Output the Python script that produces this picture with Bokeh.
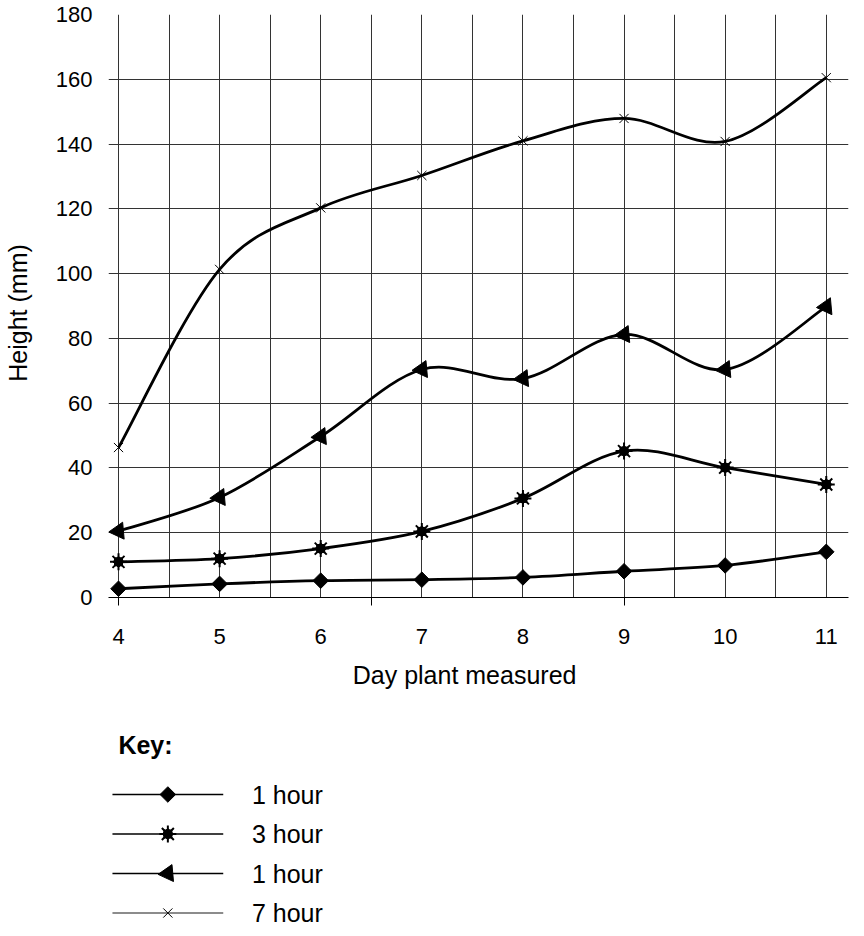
import math
from bokeh.plotting import figure
from bokeh.layouts import column
from bokeh.models import Range1d, FixedTicker
from bokeh.core.properties import value
from bokeh.embed import file_html
from bokeh.resources import INLINE

# ---- data ----
days = [4, 5, 6, 7, 8, 9, 10, 11]
one_hour_a = [2.7, 4.2, 5.2, 5.5, 6.2, 8.1, 9.9, 14.1]
three_hour = [11.0, 12.0, 15.1, 20.4, 30.6, 45.2, 40.1, 34.9]
one_hour_b = [20.5, 30.9, 49.7, 70.4, 67.6, 81.2, 70.4, 89.8]
seven_hour = [46.3, 101.3, 120.3, 130.3, 141.0, 147.9, 140.8, 160.5]
series_labels = ["1 hour", "3 hour", "1 hour", "7 hour"]
series_markers = ["diamond", "star8", "triangle_left", "x"]
y_ticks = [0, 20, 40, 60, 80, 100, 120, 140, 160, 180]
x_ticks = [4, 5, 6, 7, 8, 9, 10, 11]
x_marked_ticks = [4, 6.5, 9]
x_grid = [4, 4.5, 5, 5.5, 6, 6.5, 7, 7.5, 8, 8.5, 9, 9.5, 10, 10.5, 11]
x_title = "Day plant measured"
y_title = "Height (mm)"
key_title = "Key:"

FONT = "Liberation Sans"
NBSP = "\u00a0"

p = figure(frame_width=740, frame_height=583,
           min_border_left=100, min_border_top=14, min_border_right=8,
           min_border_bottom=0,
           x_range=Range1d(3.901, 11.22), y_range=Range1d(0, 180),
           output_backend="svg", toolbar_location=None)
p.outline_line_color = None
p.background_fill_color = "white"

# axes
ya = p.yaxis[0]
ya.ticker = FixedTicker(ticks=y_ticks)
ya.major_tick_out = 0
ya.major_tick_in = 0
ya.minor_tick_out = 0
ya.minor_tick_in = 0
ya.axis_line_color = None
ya.major_tick_line_color = None
ya.major_label_text_font = FONT
ya.major_label_text_font_size = "22px"
ya.major_label_text_color = "black"
ya.major_label_standoff = 16
ya.axis_label = y_title + NBSP * 2
ya.axis_label_text_font = FONT
ya.axis_label_text_font_size = "25px"
ya.axis_label_text_font_style = "normal"
ya.axis_label_text_color = "black"
ya.axis_label_standoff = 21

xa = p.xaxis[0]
xa.ticker = FixedTicker(ticks=x_ticks, minor_ticks=x_marked_ticks)
xa.major_tick_out = 0
xa.major_tick_in = 0
xa.minor_tick_out = 8
xa.minor_tick_in = 0
xa.minor_tick_line_color = "black"
xa.axis_line_color = "black"
xa.major_label_text_font = FONT
xa.major_label_text_font_size = "22px"
xa.major_label_text_color = "black"
xa.major_label_standoff = 23
xa.axis_label = x_title + NBSP * 4
xa.axis_label_text_font = FONT
xa.axis_label_text_font_size = "25px"
xa.axis_label_text_font_style = "normal"
xa.axis_label_text_color = "black"
xa.axis_label_standoff = 14

p.xgrid.ticker = FixedTicker(ticks=x_grid)
p.ygrid.ticker = FixedTicker(ticks=y_ticks)
for g in (p.xgrid, p.ygrid):
    g.grid_line_color = "#333333"
    g.grid_line_width = 1


def bezier_segments(xs, ys):
    """Smooth (Catmull-Rom) segments through the data points."""
    n = len(xs)
    out = dict(x0=[], y0=[], x1=[], y1=[], cx0=[], cy0=[], cx1=[], cy1=[])
    for i in range(n - 1):
        a = max(i - 1, 0)
        d = min(i + 2, n - 1)
        out["x0"].append(xs[i]); out["y0"].append(ys[i])
        out["x1"].append(xs[i + 1]); out["y1"].append(ys[i + 1])
        out["cx0"].append(xs[i] + (xs[i + 1] - xs[a]) / 6.0)
        out["cy0"].append(ys[i] + (ys[i + 1] - ys[a]) / 6.0)
        out["cx1"].append(xs[i + 1] - (xs[d] - xs[i]) / 6.0)
        out["cy1"].append(ys[i + 1] - (ys[d] - ys[i]) / 6.0)
    return out


def draw_markers(fig, xs, ys, kind):
    if kind == "diamond":
        fig.scatter(xs, ys, marker="square", size=11, angle=math.pi / 4,
                    fill_color="black", line_color="black")
    elif kind == "star8":
        fig.scatter(xs, ys, marker="square", size=8,
                    fill_color="black", line_color="black")
        fig.scatter(xs, ys, marker="square", size=8, angle=math.pi / 4,
                    fill_color="black", line_color="black")
        fig.scatter(xs, ys, marker="asterisk", size=17,
                    line_color="black", line_width=2)
    elif kind == "triangle_left":
        fig.scatter(xs, ys, marker="triangle", size=17, angle=1.66,
                    fill_color="black", line_color="black")
    else:
        fig.scatter(xs, ys, marker="x", size=13,
                    line_color="black", line_width=1)


all_series = [one_hour_a, three_hour, one_hour_b, seven_hour]
for ys, kind in zip(all_series, series_markers):
    seg = bezier_segments(days, ys)
    p.bezier(x0=seg["x0"], y0=seg["y0"], x1=seg["x1"], y1=seg["y1"],
             cx0=seg["cx0"], cy0=seg["cy0"], cx1=seg["cx1"], cy1=seg["cy1"],
             line_color="black", line_width=2.8)
    draw_markers(p, days, ys, kind)

# ---- key panel below the chart (pixel-like coordinates, y downwards) ----
KEY_W, KEY_H = 740, 237
k = figure(width=848, height=KEY_H, min_border=0,
           x_range=Range1d(0, KEY_W), y_range=Range1d(KEY_H, 0),
           x_axis_location=None, y_axis_location=None,
           output_backend="svg", toolbar_location=None)
k.outline_line_color = None
k.grid.visible = False

ROW0, ROW_STEP = 103, 39.5
LINE_X0, LINE_X1, MARK_X, TEXT_X = 4, 116, 60, 145
k.text(x=[10], y=[ROW0 - 50], text=[key_title], text_baseline="middle",
       text_font=value(FONT), text_font_size="25px", text_font_style="bold",
       text_color="black")
line_cols = ["black", "black", "black", "#666666"]
for i, (lab, kind, lc) in enumerate(zip(series_labels, series_markers, line_cols)):
    yy = ROW0 + i * ROW_STEP
    k.segment(x0=[LINE_X0], y0=[yy], x1=[LINE_X1], y1=[yy],
              line_color=lc, line_width=1.5)
    draw_markers(k, [MARK_X], [yy], kind)
    k.text(x=[TEXT_X], y=[yy], text=[lab], text_baseline="middle",
           text_font=value(FONT), text_font_size="25px", text_color="black")

layout = column(p, k, spacing=0)
open("out.html", "w").write(file_html(layout, INLINE))
